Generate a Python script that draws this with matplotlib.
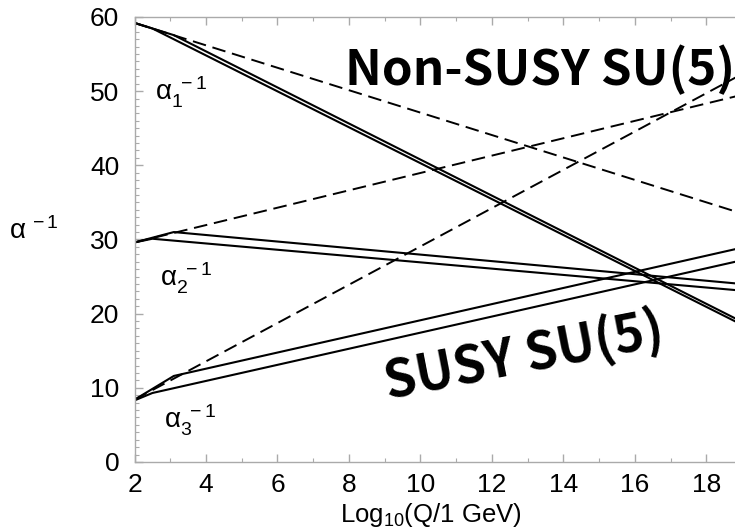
import matplotlib
matplotlib.use("Agg")
import matplotlib.pyplot as plt
from matplotlib.ticker import MultipleLocator

plt.rcParams['font.family'] = ['Liberation Sans', 'DejaVu Sans']
plt.rcParams['mathtext.fontset'] = 'custom'
plt.rcParams['mathtext.rm'] = 'Liberation Sans'
plt.rcParams['mathtext.it'] = 'Liberation Sans'

# Non-SUSY (dashed) running, log10(Q/GeV) vs alpha^-1
x_sm = [2, 19]
a1_sm = [59.2, 33.5]
a2_sm = [29.6, 49.5]
a3_sm = [8.4, 52.3]

# SUSY (solid) running, two threshold choices each
x_lo = [2, 2.5, 19]
x_hi = [2, 3.1, 19]
a1_lo = [59.2, 58.45, 18.5]
a1_hi = [59.2, 57.55, 18.9]
a2_lo = [29.6, 30.1, 23.1]
a2_hi = [29.6, 31.0, 24.0]
a3_lo = [8.3, 9.3, 27.2]
a3_hi = [8.4, 11.6, 28.9]

xticks = [2, 4, 6, 8, 10, 12, 14, 16, 18]
yticks = [0, 10, 20, 30, 40, 50, 60]

fig = plt.figure(figsize=(7.35, 5.32), dpi=100)
ax = fig.add_axes([0.183, 0.1316, 0.8265, 0.8365])

for y in (a1_sm, a2_sm, a3_sm):
    ax.plot(x_sm, y, color='black', lw=1.4, dashes=(7, 3.5))
for y in (a1_lo, a2_lo, a3_lo):
    ax.plot(x_lo, y, color='black', lw=1.5)
for y in (a1_hi, a2_hi, a3_hi):
    ax.plot(x_hi, y, color='black', lw=1.5)

ax.set_xlim(2, 19)
ax.set_ylim(0, 60)
ax.set_xticks(xticks)
ax.set_yticks(yticks)
ax.xaxis.set_minor_locator(MultipleLocator(1))
ax.yaxis.set_minor_locator(MultipleLocator(1))
ax.tick_params(which='both', direction='in', top=True, right=False,
               color='#aaaaaa', labelsize=19)
ax.tick_params(which='major', length=6, width=1)
ax.tick_params(which='minor', length=3, width=0.8)
ax.tick_params(axis='y', pad=11)
ax.tick_params(axis='x', pad=8)
for s in ax.spines.values():
    s.set_color('#aaaaaa')
    s.set_linewidth(1)

ax.set_xlabel(r'Log$_{10}$(Q/1 GeV)', fontsize=18.5)
ax.xaxis.set_label_coords(0.488, -0.088)

fig.text(0.046, 0.565, r'$\alpha^{\,-1}$', fontsize=20, ha='center', va='center')

ax.text(3.3, 49.8, r'$\alpha_1^{\,\,-1}$', fontsize=20, ha='center', va='center')
ax.text(3.45, 24.7, r'$\alpha_2^{\,\,-1}$', fontsize=20, ha='center', va='center')
ax.text(3.55, 5.6, r'$\alpha_3^{\,\,-1}$', fontsize=20, ha='center', va='center')

cjk = ['Noto Sans CJK JP', 'DejaVu Sans']
fig.text(0.469, 0.840, 'Non-SUSY SU(5)', fontsize=35.5, fontweight='bold',
         family=cjk, ha='left', va='baseline')
fig.text(0.713, 0.33, 'SUSY SU(5)', fontsize=37, fontweight='bold',
         family=cjk, ha='center', va='center', rotation=11)

fig.savefig('out.png', dpi=100)
